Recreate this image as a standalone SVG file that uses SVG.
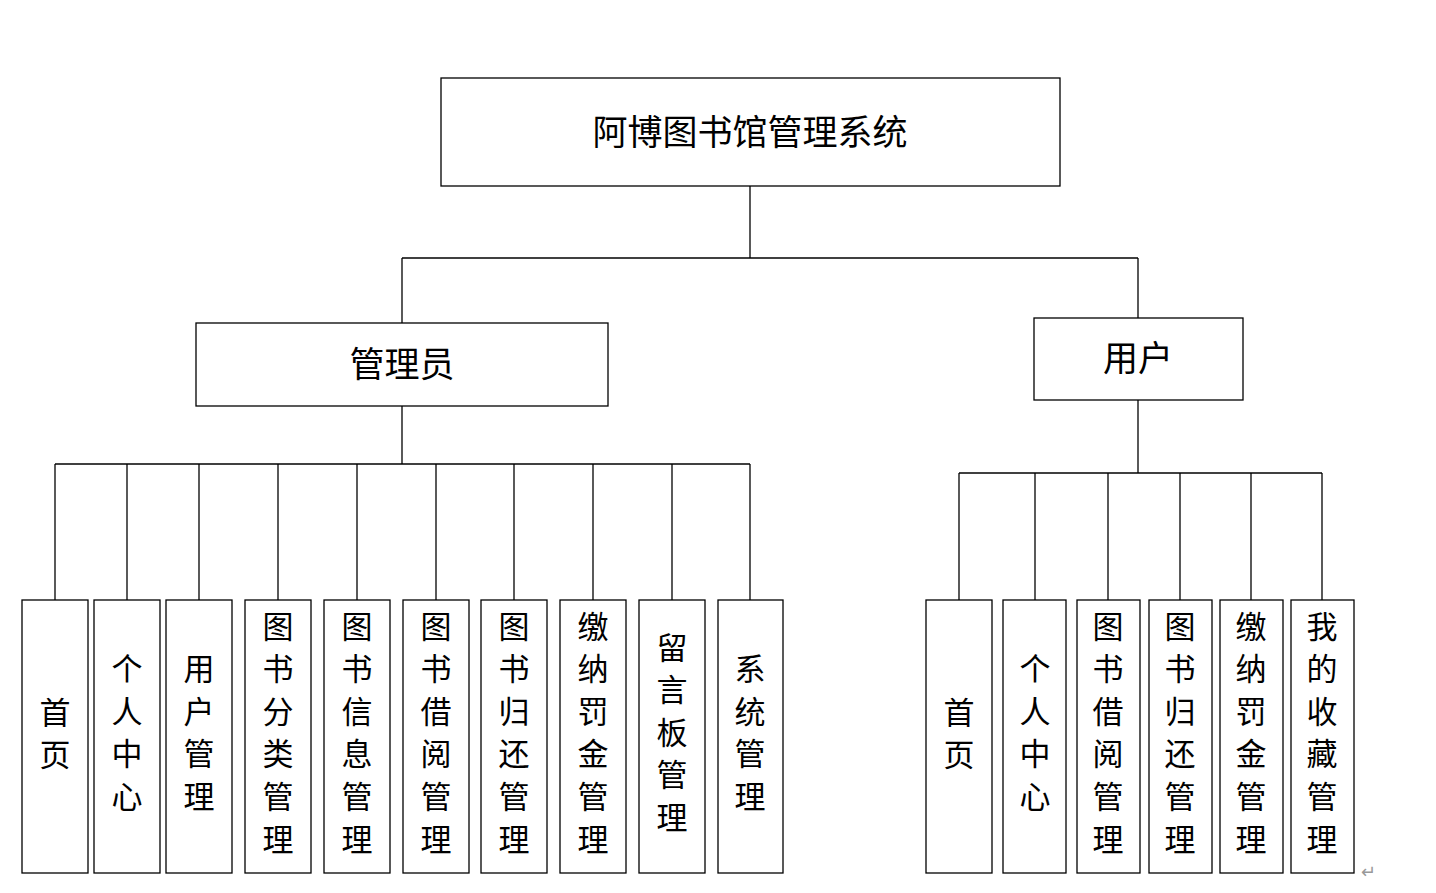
<svg xmlns="http://www.w3.org/2000/svg" width="1436" height="893" viewBox="0 0 1436 893">
<style>
rect{fill:#fff;stroke:#000;stroke-width:1.3}
.c line{stroke:#000;stroke-width:1.3}
text{font-family:"Noto Sans CJK SC","Noto Sans",sans-serif;fill:#000;text-anchor:middle;dominant-baseline:central}
.t{font-size:35px}
.v{font-size:31px}
</style>
<rect x="0" y="0" width="1436" height="893" style="stroke:none"/>
<g class="c">
<line x1="750" y1="186" x2="750" y2="258"/><line x1="402" y1="258" x2="1138" y2="258"/>
<line x1="402" y1="258" x2="402" y2="323"/><line x1="1138" y1="258" x2="1138" y2="318"/>
<line x1="402" y1="406" x2="402" y2="464"/><line x1="55" y1="464" x2="750" y2="464"/>
<line x1="55" y1="464" x2="55" y2="600"/><line x1="127" y1="464" x2="127" y2="600"/><line x1="199" y1="464" x2="199" y2="600"/><line x1="278" y1="464" x2="278" y2="600"/><line x1="357" y1="464" x2="357" y2="600"/><line x1="436" y1="464" x2="436" y2="600"/><line x1="514" y1="464" x2="514" y2="600"/><line x1="593" y1="464" x2="593" y2="600"/><line x1="672" y1="464" x2="672" y2="600"/><line x1="750" y1="464" x2="750" y2="600"/>
<line x1="1138" y1="400" x2="1138" y2="473"/><line x1="959" y1="473" x2="1322" y2="473"/>
<line x1="959" y1="473" x2="959" y2="600"/><line x1="1035" y1="473" x2="1035" y2="600"/><line x1="1108" y1="473" x2="1108" y2="600"/><line x1="1180" y1="473" x2="1180" y2="600"/><line x1="1251" y1="473" x2="1251" y2="600"/><line x1="1322" y1="473" x2="1322" y2="600"/>
</g>
<g id="root"><rect x="441" y="78" width="619" height="108"/><text class="t" x="750" y="129">阿博图书馆管理系统</text></g>
<g id="admin"><rect x="196" y="323" width="412" height="83"/><text class="t" x="402" y="361">管理员</text></g>
<g id="user"><rect x="1034" y="318" width="209" height="82"/><text class="t" x="1138" y="355">用户</text></g>
<g id="a1"><rect x="22" y="600" width="66" height="273"/><text class="v" x="55"><tspan x="55" y="710">首</tspan><tspan x="55" y="752">页</tspan></text></g>
<g id="a2"><rect x="94" y="600" width="66" height="273"/><text class="v"><tspan x="127" y="666">个</tspan><tspan x="127" y="709">人</tspan><tspan x="127" y="751">中</tspan><tspan x="127" y="794">心</tspan></text></g>
<g id="a3"><rect x="166" y="600" width="66" height="273"/><text class="v"><tspan x="199" y="666">用</tspan><tspan x="199" y="709">户</tspan><tspan x="199" y="751">管</tspan><tspan x="199" y="794">理</tspan></text></g>
<g id="a4"><rect x="245" y="600" width="66" height="273"/><text class="v"><tspan x="278" y="624">图</tspan><tspan x="278" y="666">书</tspan><tspan x="278" y="709">分</tspan><tspan x="278" y="751">类</tspan><tspan x="278" y="794">管</tspan><tspan x="278" y="837">理</tspan></text></g>
<g id="a5"><rect x="324" y="600" width="66" height="273"/><text class="v"><tspan x="357" y="624">图</tspan><tspan x="357" y="666">书</tspan><tspan x="357" y="709">信</tspan><tspan x="357" y="751">息</tspan><tspan x="357" y="794">管</tspan><tspan x="357" y="837">理</tspan></text></g>
<g id="a6"><rect x="403" y="600" width="66" height="273"/><text class="v"><tspan x="436" y="624">图</tspan><tspan x="436" y="666">书</tspan><tspan x="436" y="709">借</tspan><tspan x="436" y="751">阅</tspan><tspan x="436" y="794">管</tspan><tspan x="436" y="837">理</tspan></text></g>
<g id="a7"><rect x="481" y="600" width="66" height="273"/><text class="v"><tspan x="514" y="624">图</tspan><tspan x="514" y="666">书</tspan><tspan x="514" y="709">归</tspan><tspan x="514" y="751">还</tspan><tspan x="514" y="794">管</tspan><tspan x="514" y="837">理</tspan></text></g>
<g id="a8"><rect x="560" y="600" width="66" height="273"/><text class="v"><tspan x="593" y="624">缴</tspan><tspan x="593" y="666">纳</tspan><tspan x="593" y="709">罚</tspan><tspan x="593" y="751">金</tspan><tspan x="593" y="794">管</tspan><tspan x="593" y="837">理</tspan></text></g>
<g id="a9"><rect x="639" y="600" width="66" height="273"/><text class="v"><tspan x="672" y="645">留</tspan><tspan x="672" y="687">言</tspan><tspan x="672" y="730">板</tspan><tspan x="672" y="772">管</tspan><tspan x="672" y="815">理</tspan></text></g>
<g id="a10"><rect x="718" y="600" width="65" height="273"/><text class="v"><tspan x="750" y="666">系</tspan><tspan x="750" y="709">统</tspan><tspan x="750" y="751">管</tspan><tspan x="750" y="794">理</tspan></text></g>
<g id="u1"><rect x="926" y="600" width="66" height="273"/><text class="v"><tspan x="959" y="710">首</tspan><tspan x="959" y="752">页</tspan></text></g>
<g id="u2"><rect x="1003" y="600" width="63" height="273"/><text class="v"><tspan x="1035" y="666">个</tspan><tspan x="1035" y="709">人</tspan><tspan x="1035" y="751">中</tspan><tspan x="1035" y="794">心</tspan></text></g>
<g id="u3"><rect x="1077" y="600" width="63" height="273"/><text class="v"><tspan x="1108" y="624">图</tspan><tspan x="1108" y="666">书</tspan><tspan x="1108" y="709">借</tspan><tspan x="1108" y="751">阅</tspan><tspan x="1108" y="794">管</tspan><tspan x="1108" y="837">理</tspan></text></g>
<g id="u4"><rect x="1149" y="600" width="63" height="273"/><text class="v"><tspan x="1180" y="624">图</tspan><tspan x="1180" y="666">书</tspan><tspan x="1180" y="709">归</tspan><tspan x="1180" y="751">还</tspan><tspan x="1180" y="794">管</tspan><tspan x="1180" y="837">理</tspan></text></g>
<g id="u5"><rect x="1220" y="600" width="63" height="273"/><text class="v"><tspan x="1251" y="624">缴</tspan><tspan x="1251" y="666">纳</tspan><tspan x="1251" y="709">罚</tspan><tspan x="1251" y="751">金</tspan><tspan x="1251" y="794">管</tspan><tspan x="1251" y="837">理</tspan></text></g>
<g id="u6"><rect x="1291" y="600" width="63" height="273"/><text class="v"><tspan x="1322" y="624">我</tspan><tspan x="1322" y="666">的</tspan><tspan x="1322" y="709">收</tspan><tspan x="1322" y="751">藏</tspan><tspan x="1322" y="794">管</tspan><tspan x="1322" y="837">理</tspan></text></g>
<text x="1368" y="870" style="font-size:18px;fill:#999">↵</text>
</svg>
